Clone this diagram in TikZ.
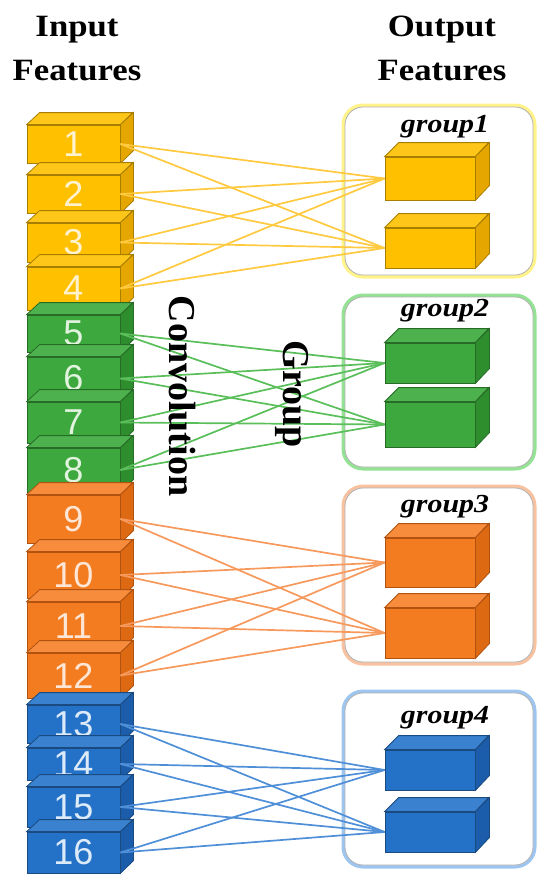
\documentclass[tikz,border=0pt]{standalone}
\usepackage{fontspec}
\setmainfont{Liberation Serif}
\newfontfamily\numfont{Liberation Sans}
\usepackage{tikz}

\definecolor{yel}{HTML}{FFC000}
\definecolor{yelT}{HTML}{FFC61A}
\definecolor{yelS}{HTML}{E5A600}
\definecolor{yelD}{HTML}{A87E00}
\definecolor{yelN}{HTML}{FFF3CF}
\definecolor{yelL}{HTML}{FFC940}
\definecolor{yelG}{HTML}{FFF38A}
\definecolor{grn}{HTML}{3DA83D}
\definecolor{grnT}{HTML}{4DB24D}
\definecolor{grnS}{HTML}{2E8E2E}
\definecolor{grnD}{HTML}{276B27}
\definecolor{grnN}{HTML}{E2F3DF}
\definecolor{grnL}{HTML}{5ABE5A}
\definecolor{grnG}{HTML}{94E294}
\definecolor{org}{HTML}{F47C20}
\definecolor{orgT}{HTML}{F68C3C}
\definecolor{orgS}{HTML}{DD6A12}
\definecolor{orgD}{HTML}{B25210}
\definecolor{orgN}{HTML}{FDE6D6}
\definecolor{orgL}{HTML}{F7995C}
\definecolor{orgG}{HTML}{F8C2A0}
\definecolor{blu}{HTML}{2472C8}
\definecolor{bluT}{HTML}{3A82D0}
\definecolor{bluS}{HTML}{1B5DAA}
\definecolor{bluD}{HTML}{1A4A80}
\definecolor{bluN}{HTML}{DDEBF8}
\definecolor{bluL}{HTML}{4F8FD8}
\definecolor{bluG}{HTML}{9EC5F0}

\begin{document}
\begin{tikzpicture}[x=1pt, y=-1pt,
	inbox/.style={draw=#1D, fill=#1, line width=0.8pt, minimum width=93, inner sep=0pt, text=#1N, font=\numfont\fontsize{36}{36}\selectfont},
	outbox/.style={draw=#1D, fill=#1, line width=0.8pt, minimum width=90, inner sep=0pt},
	frame/.style={draw=gray!60, fill=white, line width=0.8pt, rounded corners=18, minimum width=188, preaction={draw=#1G, line width=7pt}},
	grplabel/.style={font=\bfseries\itshape\fontsize{26}{26}\selectfont, xscale=1.15},
	head/.style={font=\bfseries\fontsize{31}{44}\selectfont, align=center, xscale=1.12, inner sep=0pt},
	vtext/.style={font=\bfseries\fontsize{38}{38}\selectfont, rotate=-90, inner sep=0pt},
	link/.style={draw=#1L, line width=1.7pt}]
	\useasboundingbox (0,0) rectangle (550,892);

	% headers
	\node[head, anchor=north] (inhead) at (77,16) {Input\\Features};
	\node[head, anchor=north] (outhead) at (442,16) {Output\\Features};

	% group frames
	\foreach \k/\y/\h/\ly/\c in {1/191/168/127/yel, 2/382/170/311/grn, 3/575/174/507/org, 4/779/172/718/blu} {
		\node[frame=\c, minimum height=\h] (grp\k) at (439,\y) {};
		\node[grplabel] (lab\k) at (445,\ly) {group\k};
	}

	% input features
	\foreach \n/\t/\b/\c in {1/125/163/yel, 2/175/213/yel, 3/223/262/yel, 4/267/310/yel,
		5/315/352/grn, 6/357/400/grn, 7/402/443/grn, 8/448/492/grn,
		9/495/543/org, 10/552/598/org, 11/602/650/org, 12/653/698/org,
		13/705/743/blu, 14/748/780/blu, 15/787/827/blu, 16/832/873/blu} {
		\node[inbox=\c, minimum height={\b-\t}] (in\n) at (73.5,{(\t+\b)/2}) {\n};
		\filldraw[fill=\c T, draw=\c D, line width=0.8pt] (in\n.north west) -- ++(13,-12) -- ++(93,0) -- (in\n.north east) -- cycle;
		\filldraw[fill=\c S, draw=\c D, line width=0.8pt] (in\n.north east) -- ++(13,-12) -- ++(0,{\b-\t}) -- (in\n.south east) -- cycle;
	}

	% output features
	\foreach \o/\t/\b/\c in {1a/157/200/yel, 1b/228/268/yel, 2a/343/383/grn, 2b/402/447/grn,
		3a/538/587/org, 3b/608/658/org, 4a/750/790/blu, 4b/812/852/blu} {
		\node[outbox=\c, minimum height={\b-\t}] (out\o) at (430,{(\t+\b)/2}) {};
		\filldraw[fill=\c T, draw=\c D, line width=0.8pt] (out\o.north west) -- ++(14,-14) -- ++(90,0) -- (out\o.north east) -- cycle;
		\filldraw[fill=\c S, draw=\c D, line width=0.8pt] (out\o.north east) -- ++(14,-14) -- ++(0,{\b-\t}) -- (out\o.south east) -- cycle;
	}

	% group convolution links
	\foreach \k/\c in {1/yel, 2/grn, 3/org, 4/blu}
		\foreach \i in {1,...,4}
			\foreach \s in {a,b} {
				\pgfmathtruncatemacro\n{4*(\k-1)+\i}
				\draw[link=\c] (in\n.east) -- (out\k\s.west);
			}

	\node[vtext] (conv) at (182,396) {Convolution};
	\node[vtext] (grouptext) at (292,394) {Group};
\end{tikzpicture}
\end{document}
